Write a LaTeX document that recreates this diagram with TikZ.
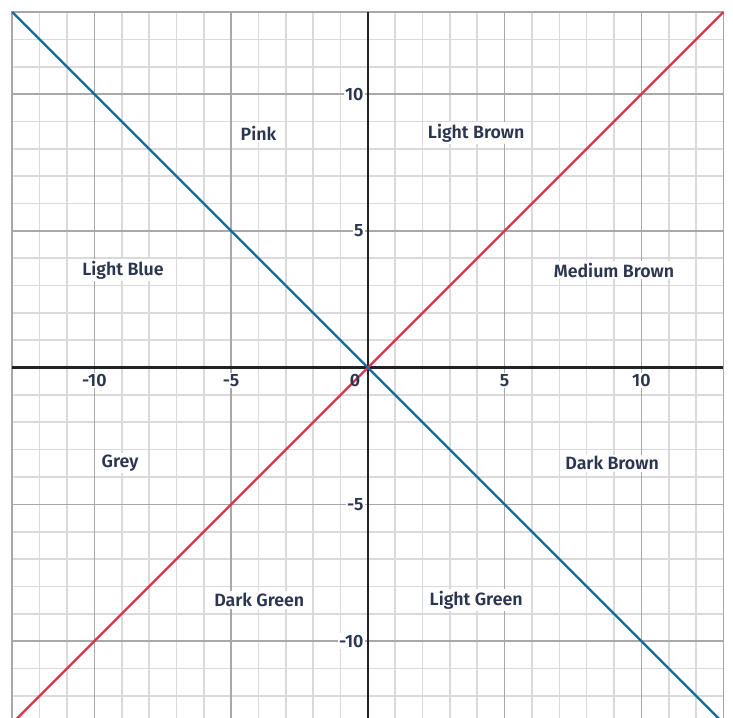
\documentclass[tikz,border=0pt]{standalone}
\usepackage{fontspec}
\IfFontExistsTF{Fira Sans SemiBold}{\setmainfont{Fira Sans SemiBold}}{\IfFontExistsTF{Fira Sans Medium}{\setmainfont{Fira Sans Medium}}{\setmainfont{Fira Sans}}}
\definecolor{minorgrid}{HTML}{DADADA}
\definecolor{majorgrid}{HTML}{A8A8A8}
\definecolor{axiscol}{HTML}{222222}
\definecolor{bluecol}{HTML}{17699C}
\definecolor{redcol}{HTML}{E0314B}
\definecolor{textcol}{HTML}{2B3550}
\tikzset{
  region/.style={fill=white,inner sep=2pt,text=textcol,font=\fontsize{18.5}{20}\selectfont},
  ticklbl/.style={fill=white,inner sep=1.5pt,text=textcol,font=\fontsize{18.5}{20}\selectfont},
}
\begin{document}
\begin{tikzpicture}[x=1cm,y=1cm]
\useasboundingbox (-13.45,-12.81) rectangle (13.35,13.44);
\clip (-13.45,-12.81) rectangle (13.35,13.44);
% grid
\draw[minorgrid,line width=1.7pt] (-13,-13) grid[step=1] (13,13);
\draw[majorgrid,line width=1.7pt] (-10,-13) -- (-10,13) (-5,-13) -- (-5,13) (5,-13) -- (5,13) (10,-13) -- (10,13)
  (-13,-10) -- (13,-10) (-13,-5) -- (13,-5) (-13,5) -- (13,5) (-13,10) -- (13,10);
\draw[majorgrid,line width=1.7pt] (-13,-13) rectangle (13,13);
% tick labels
\node[ticklbl] (xm10) at (-10,-0.47) {-10};
\node[ticklbl] (xm5) at (-5,-0.47) {-5};
\node[ticklbl] (xp5) at (5,-0.47) {5};
\node[ticklbl] (xp10) at (10,-0.47) {10};
\node[ticklbl,anchor=east] (yp10) at (-0.1,10) {10};
\node[ticklbl,anchor=east] (yp5) at (-0.1,5) {5};
\node[ticklbl,anchor=east] (ym5) at (-0.1,-5) {-5};
\node[ticklbl,anchor=east] (ym10) at (-0.1,-10) {-10};
% axes
\draw[axiscol,line width=2.6pt] (-13,0) -- (13,0);
\draw[axiscol,line width=2.6pt] (0,-13) -- (0,13);
% lines
\draw[redcol,line width=2.5pt] (-13,-13) -- (13,13);
\draw[bluecol,line width=2.5pt] (-13,13) -- (13,-13);
\node[inner sep=0pt,text=textcol,font=\fontsize{18.5}{20}\selectfont] (zero) at (-0.47,-0.46) {0};
% regions
\node[region] (pink) at (-4,8.58) {Pink};
\node[region] (lbrown) at (3.96,8.58) {Light Brown};
\node[region] (lblue) at (-8.95,3.56) {Light Blue};
\node[region] (mbrown) at (9.0,3.56) {Medium Brown};
\node[region] (grey) at (-9.06,-3.5) {Grey};
\node[region] (dbrown) at (8.93,-3.5) {Dark Brown};
\node[region] (dgreen) at (-3.97,-8.5) {Dark Green};
\node[region] (lgreen) at (3.96,-8.5) {Light Green};
\end{tikzpicture}
\end{document}
